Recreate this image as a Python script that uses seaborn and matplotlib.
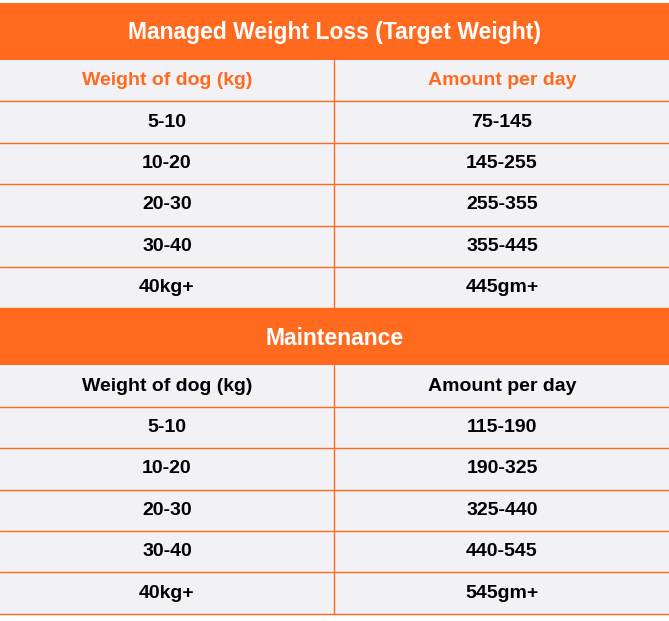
import matplotlib
matplotlib.use("Agg")
import matplotlib.pyplot as plt
import seaborn as sns

# table contents
titles = ["Managed Weight Loss (Target Weight)", "Maintenance"]
col_headers = ["Weight of dog (kg)", "Amount per day"]
weights = ["5-10", "10-20", "20-30", "30-40", "40kg+"]
loss_amounts = ["75-145", "145-255", "255-355", "355-445", "445gm+"]
maint_amounts = ["115-190", "190-325", "325-440", "440-545", "545gm+"]

sns.set_theme(style="white")
plt.rcParams['font.family'] = ['Liberation Sans', 'DejaVu Sans']

orange = "#FF6A1F"
bg = "#F2F1F6"
W, H = 669, 621

fig = plt.figure(figsize=(6.69, 6.21), dpi=100)
ax = fig.add_axes([0, 0, 1, 1])
ax.set_xlim(0, W)
ax.set_ylim(H, 0)
ax.axis("off")

col_x = [167, 502]
div_x = 334
row_h = 41.4


def section(top, title, header_color, amounts):
    ax.axhspan(top, top + 57, color=orange, lw=0)
    ax.text(W / 2, top + 30, title, ha="center", va="center", color="white",
            fontsize=16.5, fontweight="bold")
    y0 = top + 57
    n = len(weights) + 1
    ax.axhspan(y0, y0 + n * row_h, color=bg, lw=0)
    ax.plot([div_x, div_x], [y0, y0 + n * row_h], color=orange, lw=1)
    rows = [col_headers] + list(zip(weights, amounts))
    for i, row in enumerate(rows):
        yc = y0 + (i + 0.5) * row_h
        for j, txt in enumerate(row):
            ax.text(col_x[j], yc, txt, ha="center", va="center",
                    color=header_color if i == 0 else "black",
                    fontsize=14, fontweight="bold")
        ax.plot([0, W], [y0 + (i + 1) * row_h] * 2, color=orange, lw=1)
    return y0 + n * row_h


bottom = section(3, titles[0], orange, loss_amounts)
section(bottom, titles[1], "black", maint_amounts)

fig.savefig("out.png", dpi=100, facecolor="white")
